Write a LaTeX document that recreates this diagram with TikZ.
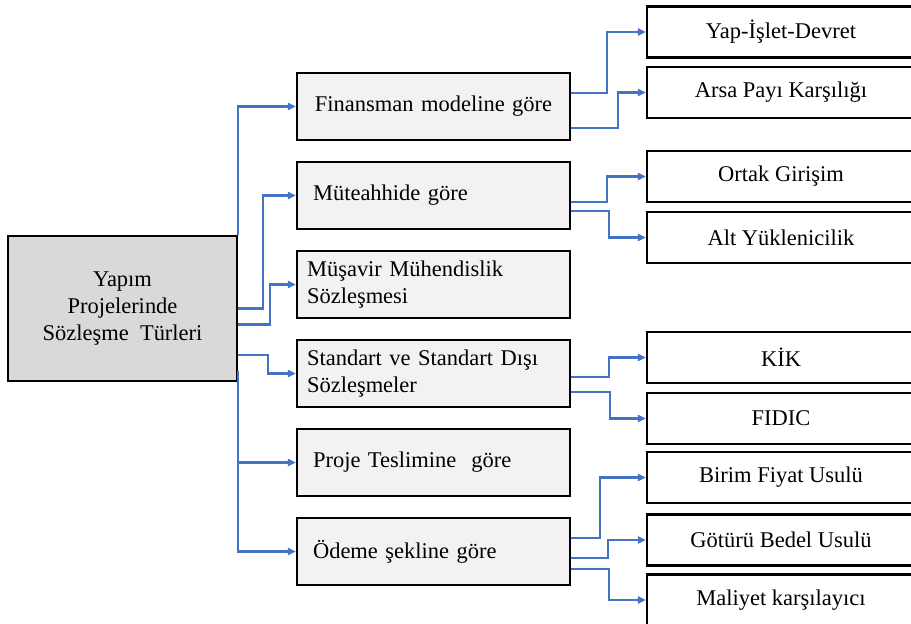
\documentclass[tikz,border=0pt]{standalone}
\usepackage{fontspec}
\setmainfont{Liberation Serif}
\usepackage{tikz}
\usetikzlibrary{arrows.meta,calc,positioning}
\definecolor{rootgray}{RGB}{217,217,217}
\definecolor{midgray}{RGB}{242,242,242}
\definecolor{linkblue}{RGB}{68,114,196}

\begin{document}
\begin{tikzpicture}[x=0.02cm,y=-0.02cm,
 >={Triangle[length=4.6pt,width=4pt]},
 box/.style={draw=black,line width=1.2pt,font=\fontsize{12.8}{15.3}\selectfont},
 rootbox/.style={box,fill=rootgray,minimum width=4.58cm,minimum height=2.9cm,align=center},
 midbox/.style={box,fill=midgray,minimum width=5.46cm,minimum height=1.34cm,
  inner xsep=0.32cm,text width=4.82cm,align=left},
 widebox/.style={midbox,inner xsep=0.2cm,text width=5.06cm},
 leafbox/.style={box,fill=white,minimum width=5.36cm,minimum height=1.02cm,align=center},
 link/.style={->,linkblue,line width=1.2pt}]
\useasboundingbox (0,0) rectangle (911,624);

% root
\node[rootbox] (root) at (122.5,308.5) {Yapım\\Projelerinde\\Sözleşme~ Türleri};

% middle column
\node[midbox,align=center] (fin) at (433.5,106.5) {Finansman modeline göre};
\node[midbox] (mut) at (433.5,195.5) {Müteahhide göre};
\node[widebox] (mus) at (433.5,284.5) {Müşavir Mühendislik\\Sözleşmesi};
\node[widebox] (std) at (433.5,373.5) {Standart ve Standart Dışı\\Sözleşmeler};
\node[midbox] (tes) at (433.5,462.5) {Proje Teslimine~ göre};
\node[midbox] (ode) at (433.5,551.5) {Ödeme şekline göre};

% right column
\node[leafbox] (yid) at (781,32) {Yap-İşlet-Devret};
\node[leafbox] (arsa) at (781,92.5) {Arsa Payı Karşılığı};
\node[leafbox] (ortak) at (781,176.5) {Ortak Girişim};
\node[leafbox] (alt) at (781,237.5) {Alt Yüklenicilik};
\node[leafbox] (kik) at (781,357.5) {KİK};
\node[leafbox] (fidic) at (781,418.5) {FIDIC};
\node[leafbox] (birim) at (781,477.5) {Birim Fiyat Usulü};
\node[leafbox] (got) at (781,540) {Götürü Bedel Usulü};
\node[leafbox] (mal) at (781,600) {Maliyet karşılayıcı};

% root -> middle
\draw[link] (root.north east) |- (fin.west);
\draw[link] (root.east) -- ++(25,0) |- (mut.west);
\draw[link] ([yshift=-0.32cm]root.east) -- ++(32,0) |- (mus.west);
\draw[link] ([yshift=-0.93cm]root.east) -- ++(30,0) |- (std.west);
\draw[link] ([yshift=0.22cm]root.south east) |- (ode.west);
\draw[link] (root.south east |- tes.west) -- (tes.west);

% middle -> right
\draw[link] ([yshift=0.27cm]fin.east) -- ++(36,0) |- (yid.west);
\draw[link] ([yshift=-0.43cm]fin.east) -- ++(47,0) |- (arsa.west);
\draw[link] ([yshift=-0.13cm]mut.east) -- ++(36,0) |- (ortak.west);
\draw[link] ([yshift=-0.31cm]mut.east) -- ++(38,0) |- (alt.west);
\draw[link] ([yshift=-0.07cm]std.east) -- ++(38,0) |- (kik.west);
\draw[link] ([yshift=-0.37cm]std.east) -- ++(39,0) |- (fidic.west);
\draw[link] ([yshift=0.27cm]ode.east) -- ++(29,0) |- (birim.west);
\draw[link] ([yshift=-0.13cm]ode.east) -- ++(37,0) |- (got.west);
\draw[link] ([yshift=-0.35cm]ode.east) -- ++(38,0) |- (mal.west);
\end{tikzpicture}
\end{document}
